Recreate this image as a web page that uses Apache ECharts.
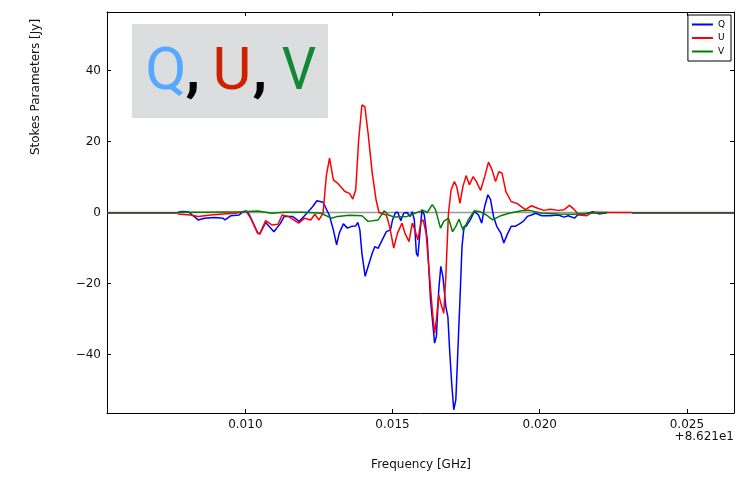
<!DOCTYPE html>
<html>
<head>
<meta charset="utf-8">
<script src="https://cdn.jsdelivr.net/npm/echarts@6/dist/echarts.min.js"></script>
<style>
  html, body { margin: 0; padding: 0; background: #ffffff; }
  #chart { width: 755px; height: 477px; }
</style>
</head>
<body>
<div id="chart"></div>
<script>
// Frequency offsets (GHz, relative to 86.21 GHz) and Stokes parameters (Jy)
const freqQ = [0.00771,0.00785,0.00806,0.00840,0.00861,0.00896,0.00924,0.00931,0.00951,0.00979,0.00993,0.01004,0.01014,0.01042,0.01049,0.01069,0.01097,0.01118,0.01132,0.01160,0.01183,0.01201,0.01229,0.01243,0.01264,0.01271,0.01285,0.01299,0.01310,0.01319,0.01333,0.01347,0.01361,0.01375,0.01382,0.01389,0.01396,0.01407,0.01417,0.01431,0.01440,0.01451,0.01465,0.01479,0.01493,0.01500,0.01510,0.01518,0.01528,0.01538,0.01549,0.01560,0.01567,0.01574,0.01581,0.01586,0.01593,0.01600,0.01608,0.01618,0.01629,0.01643,0.01649,0.01657,0.01664,0.01671,0.01681,0.01688,0.01694,0.01701,0.01708,0.01715,0.01722,0.01729,0.01736,0.01743,0.01750,0.01764,0.01778,0.01792,0.01803,0.01813,0.01824,0.01833,0.01843,0.01854,0.01868,0.01878,0.01889,0.01903,0.01917,0.01931,0.01944,0.01958,0.01972,0.01986,0.02007,0.02035,0.02063,0.02083,0.02097,0.02118,0.02132,0.02153,0.02181,0.02201,0.02229];
const stokesQ = [0.1,0.3,0.2,-2.1,-1.6,-1.4,-1.6,-2.1,-0.9,-0.7,0.3,0.4,-0.7,-5.8,-6.0,-2.8,-5.4,-3.2,-1.1,-1.1,-2.5,-0.9,1.7,3.3,2.9,1.7,-0.7,-4.9,-9.1,-5.8,-3.2,-4.4,-3.9,-3.8,-2.8,-4.9,-11.5,-18.0,-15.2,-11.5,-9.6,-10.1,-7.7,-5.4,-4.9,-2.1,0.0,0.1,-2.3,-0.2,0.0,-1.1,0.2,-2.1,-11.5,-12.4,-5.8,0.8,-0.7,-7.7,-24.6,-36.8,-34.9,-21.8,-15.2,-18.0,-26.5,-29.4,-38.8,-48.2,-55.6,-52.8,-38.8,-24.6,-9.6,-3.9,-3.9,-2.1,0.3,-0.7,-3.0,1.7,5.0,3.6,-1.1,-3.9,-5.8,-8.6,-6.3,-3.9,-3.9,-3.2,-2.5,-1.1,-0.7,-0.2,-0.9,-0.9,-0.7,-1.3,-0.9,-1.6,-0.4,-0.4,0.2,-0.4,-0.1];

const freqU = [0.00771,0.00813,0.00840,0.00882,0.00924,0.00965,0.00993,0.01004,0.01018,0.01042,0.01049,0.01069,0.01090,0.01111,0.01125,0.01146,0.01181,0.01201,0.01222,0.01236,0.01250,0.01264,0.01275,0.01286,0.01299,0.01313,0.01338,0.01354,0.01365,0.01375,0.01385,0.01396,0.01406,0.01417,0.01431,0.01444,0.01454,0.01479,0.01490,0.01504,0.01517,0.01532,0.01542,0.01556,0.01567,0.01576,0.01586,0.01597,0.01604,0.01614,0.01625,0.01635,0.01643,0.01649,0.01657,0.01664,0.01674,0.01681,0.01690,0.01699,0.01710,0.01718,0.01729,0.01739,0.01750,0.01761,0.01774,0.01785,0.01799,0.01813,0.01826,0.01838,0.01850,0.01861,0.01872,0.01885,0.01903,0.01924,0.01951,0.01972,0.01993,0.02014,0.02035,0.02063,0.02083,0.02101,0.02118,0.02132,0.02160,0.02174,0.02188,0.02243,0.02313];
const stokesU = [-0.4,-0.7,-1.1,-0.7,-0.4,-0.2,0.2,0.2,-1.6,-5.8,-6.1,-2.3,-3.5,-3.3,-0.7,-1.1,-3.0,-1.6,-2.1,-0.5,-2.1,-0.2,10.3,15.3,9.2,8.3,5.9,5.4,3.8,6.4,20.5,30.3,29.8,22.3,11.1,3.6,0.0,-0.7,-3.9,-10.0,-5.8,-3.0,-5.8,-8.2,-3.0,-4.9,-7.7,-2.5,-2.1,-5.8,-17.1,-27.4,-34.0,-30.2,-23.2,-25.6,-28.4,-18.0,-0.2,6.4,8.7,7.3,2.6,7.3,10.4,7.8,10.1,8.7,6.2,10.1,14.2,12.0,8.7,11.5,11.1,5.9,3.1,2.5,0.8,1.9,1.2,0.6,0.9,0.6,0.8,2.0,0.8,-0.7,-0.9,-0.2,0.1,0.0,0.0];

const freqV = [0.00771,0.00854,0.00993,0.01042,0.01090,0.01132,0.01201,0.01257,0.01292,0.01313,0.01354,0.01396,0.01417,0.01451,0.01472,0.01486,0.01507,0.01549,0.01576,0.01604,0.01618,0.01635,0.01646,0.01663,0.01674,0.01690,0.01704,0.01715,0.01726,0.01740,0.01757,0.01778,0.01799,0.01819,0.01840,0.01868,0.01896,0.01938,0.01965,0.02007,0.02063,0.02118,0.02174,0.02229];
const stokesV = [0.1,0.1,0.2,0.4,-0.2,0.1,0.1,-0.2,-1.6,-1.1,-0.8,-0.9,-2.5,-2.1,0.5,-0.7,-1.3,-1.1,-0.2,0.6,0.0,2.2,0.8,-4.4,-2.5,-1.6,-5.4,-3.9,-1.9,-5.1,-2.1,0.5,0.2,-0.7,-2.1,-0.9,-0.2,0.5,0.6,-0.2,-0.4,-0.5,-0.2,0.0];

const freqTicks = [0.010, 0.015, 0.020, 0.025];
const stokesTicks = [-40, -20, 0, 20, 40];
const seriesNames = ['Q', 'U', 'V'];
const offsetText = '+8.621e1';

const X_MIN = 0.0053, X_MAX = 0.0266;
const Y_MIN = -56.5, Y_MAX = 56.5;

function pairs(xs, ys) {
  const n = Math.min(xs.length, ys.length);
  const out = [];
  for (let i = 0; i < n; i++) out.push([xs[i], ys[i]]);
  return out;
}

const FONT = 'DejaVu Sans';
const chart = echarts.init(document.getElementById('chart'), null, { renderer: 'canvas' });

const tickStyle = { show: true, inside: true, length: 4, lineStyle: { color: '#000', width: 1 } };

const option = {
  animation: false,
  backgroundColor: '#ffffff',
  grid: { left: 107, right: 21, top: 12, bottom: 64, containLabel: false },
  legend: {
    data: seriesNames.map(n => ({ name: n, icon: 'rect' })),
    orient: 'vertical',
    right: 24,
    top: 15,
    backgroundColor: '#ffffff',
    borderColor: '#000000',
    borderWidth: 1,
    borderRadius: 0,
    padding: [5, 6, 5, 4],
    itemWidth: 21,
    itemHeight: 2,
    itemGap: 4.5,
    textStyle: { fontFamily: FONT, fontSize: 9, color: '#000' }
  },
  xAxis: [
    {
      type: 'value', min: X_MIN, max: X_MAX, position: 'bottom',
      splitLine: { show: false },
      axisLine: { show: true, onZero: false, lineStyle: { color: '#000', width: 1 } },
      axisTick: Object.assign({ customValues: freqTicks }, tickStyle),
      axisLabel: {
        customValues: freqTicks, margin: 6, color: '#111',
        fontFamily: FONT, fontSize: 12,
        formatter: v => v.toFixed(3)
      }
    },
    {
      type: 'value', min: X_MIN, max: X_MAX, position: 'top',
      splitLine: { show: false },
      axisLine: { show: true, onZero: false, lineStyle: { color: '#000', width: 1 } },
      axisTick: Object.assign({ customValues: freqTicks }, tickStyle),
      axisLabel: { show: false }
    }
  ],
  yAxis: [
    {
      type: 'value', min: Y_MIN, max: Y_MAX, position: 'left',
      splitLine: { show: false },
      axisLine: { show: true, onZero: false, lineStyle: { color: '#000', width: 1 } },
      axisTick: Object.assign({ customValues: stokesTicks }, tickStyle),
      axisLabel: {
        customValues: stokesTicks, margin: 6, color: '#111',
        fontFamily: FONT, fontSize: 12,
        formatter: v => (v < 0 ? '\u2212' + Math.abs(v) : String(v))
      }
    },
    {
      type: 'value', min: Y_MIN, max: Y_MAX, position: 'right',
      splitLine: { show: false },
      axisLine: { show: true, onZero: false, lineStyle: { color: '#000', width: 1 } },
      axisTick: Object.assign({ customValues: stokesTicks }, tickStyle),
      axisLabel: { show: false }
    }
  ],
  series: [
    {
      name: 'zero',
      type: 'line',
      symbol: 'none',
      silent: true,
      data: [[X_MIN, 0], [X_MAX, 0]],
      lineStyle: { color: '#999999', width: 1.5 },
      z: 1,
      markLine: {
        silent: true,
        symbol: ['none', 'none'],
        label: { show: false },
        lineStyle: { color: '#2a2a22', width: 1.5, type: 'solid' },
        data: [
          [{ coord: [X_MIN, 0] }, { coord: [freqQ[0], 0] }],
          [{ coord: [freqU[freqU.length - 1], 0] }, { coord: [X_MAX, 0] }]
        ]
      }
    },
    {
      name: 'Q', type: 'line', symbol: 'none',
      data: pairs(freqQ, stokesQ),
      lineStyle: { color: '#0000ff', width: 1.5 }, itemStyle: { color: '#0000ff' }, z: 2
    },
    {
      name: 'U', type: 'line', symbol: 'none',
      data: pairs(freqU, stokesU),
      lineStyle: { color: '#ff0000', width: 1.5 }, itemStyle: { color: '#ff0000' }, z: 3
    },
    {
      name: 'V', type: 'line', symbol: 'none',
      data: pairs(freqV, stokesV),
      lineStyle: { color: '#008000', width: 1.5 }, itemStyle: { color: '#008000' }, z: 4
    }
  ],
  graphic: [
    // title panel in the upper left of the plot
    { type: 'rect', shape: { x: 132, y: 24, width: 196, height: 94 }, style: { fill: '#dcdddf' }, z: 10 },
    { type: 'text', x: 166, y: 74, z: 11, style: { text: 'Q', fill: '#55aaff', font: '60px Roboto', textAlign: 'center', textVerticalAlign: 'middle' } },
    { type: 'text', x: 193, y: 74, z: 11, style: { text: ',', fill: '#000000', font: 'bold 60px Roboto', textAlign: 'center', textVerticalAlign: 'middle' } },
    { type: 'text', x: 232, y: 74, z: 11, style: { text: 'U', fill: '#cc2200', font: '60px Roboto', textAlign: 'center', textVerticalAlign: 'middle' } },
    { type: 'text', x: 260, y: 74, z: 11, style: { text: ',', fill: '#000000', font: 'bold 60px Roboto', textAlign: 'center', textVerticalAlign: 'middle' } },
    { type: 'text', x: 299, y: 74, z: 11, scaleX: 0.9, style: { text: 'V', fill: '#118833', font: '60px Roboto', textAlign: 'center', textVerticalAlign: 'middle' } },
    // axis titles and offset annotation
    { type: 'text', x: 421, y: 465, style: { text: 'Frequency [GHz]', fill: '#111', font: '12px "DejaVu Sans"', textAlign: 'center', textVerticalAlign: 'middle' } },
    { type: 'text', x: 36, y: 87, rotation: Math.PI / 2, style: { text: 'Stokes Parameters [Jy]', fill: '#111', font: '12px "DejaVu Sans"', textAlign: 'center', textVerticalAlign: 'middle' } },
    { type: 'text', x: 734, y: 437, style: { text: offsetText, fill: '#111', font: '12px "DejaVu Sans"', textAlign: 'right', textVerticalAlign: 'middle' } }
  ]
};

chart.setOption(option);
</script>
</body>
</html>
